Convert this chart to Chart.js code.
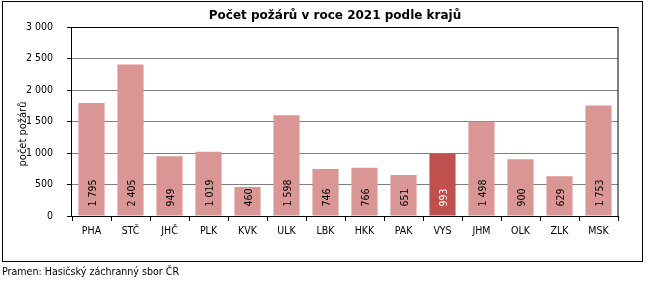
<!DOCTYPE html>
<html>
<head>
<meta charset="utf-8">
<script src="https://cdn.jsdelivr.net/npm/chart.js@4/dist/chart.umd.min.js"></script>
<style>
html,body{margin:0;padding:0;background:#fff;}
#wrap{position:relative;width:649px;height:281px;}
canvas{position:absolute;left:0;top:0;}
</style>
</head>
<body>
<div id="wrap"><canvas id="c" width="649" height="281"></canvas></div>
<script>
const categories = ["PHA","STČ","JHČ","PLK","KVK","ULK","LBK","HKK","PAK","VYS","JHM","OLK","ZLK","MSK"];
const fires = [1795, 2405, 949, 1019, 460, 1598, 746, 766, 651, 993, 1498, 900, 629, 1753];
const highlighted = ["VYS"];
const yTicks = [0, 500, 1000, 1500, 2000, 2500, 3000];
const chartTitle = "Počet požárů v roce 2021 podle krajů";
const yTitle = "počet požárů";
const sourceText = "Pramen: Hasičský záchranný sbor ČR";

const FONT = '"DejaVu Sans Condensed", "DejaVu Sans", sans-serif';
const TITLE_FONT = '"DejaVu Sans", sans-serif';
const fmt = v => String(v).replace(/\B(?=(\d{3})+(?!\d))/g, " ");

const LIGHT = "#D99694";
const DARK = "#C0504D";

const decor = {
  id: "decor",
  afterDraw(chart) {
    const ctx = chart.ctx;
    const a = chart.chartArea;
    ctx.save();
    ctx.strokeStyle = "#000";
    ctx.lineWidth = 1;
    ctx.strokeRect(Math.round(a.left) - 0.5, Math.round(a.top) + 0.5, Math.round(a.right - a.left) + 0.5, Math.round(a.bottom - a.top));
    ctx.strokeRect(2.5, 1.5, 640, 260);
    ctx.fillStyle = "#000";
    ctx.font = "bold 12px " + TITLE_FONT;
    ctx.textAlign = "center";
    ctx.textBaseline = "middle";
    ctx.fillText(chartTitle, 335, 16);
    ctx.font = "11px " + FONT;
    ctx.save();
    ctx.translate(23, 134);
    ctx.rotate(-Math.PI / 2);
    ctx.fillText(yTitle, 0, 0);
    ctx.restore();
    ctx.textAlign = "left";
    ctx.font = "10.6px " + FONT;
    ctx.fillText(sourceText, 2, 272);
    ctx.restore();
  },
  afterDatasetsDraw(chart) {
    const ctx = chart.ctx;
    const meta = chart.getDatasetMeta(0);
    ctx.save();
    ctx.font = "10.5px " + FONT;
    ctx.textAlign = "left";
    ctx.textBaseline = "middle";
    meta.data.forEach((bar, i) => {
      ctx.save();
      ctx.fillStyle = highlighted.includes(categories[i]) ? "#fff" : "#000";
      ctx.translate(bar.x + 1.5, bar.base - 9);
      ctx.rotate(-Math.PI / 2);
      ctx.fillText(fmt(fires[i]), 0, 0);
      ctx.restore();
    });
    ctx.restore();
  }
};

new Chart(document.getElementById("c"), {
  type: "bar",
  data: {
    labels: categories,
    datasets: [{
      data: fires,
      backgroundColor: categories.map(c => highlighted.includes(c) ? DARK : LIGHT),
      borderWidth: 0,
      barPercentage: 0.67,
      categoryPercentage: 1
    }]
  },
  options: {
    responsive: false,
    animation: false,
    devicePixelRatio: 1,
    layout: { padding: { left: 0, right: 31, top: 27, bottom: 0 } },
    plugins: { legend: { display: false }, title: { display: false }, tooltip: { enabled: false } },
    scales: {
      x: {
        offset: true,
        grid: { offset: true, drawOnChartArea: false, drawTicks: true, tickLength: 5, tickColor: "#000" },
        border: { display: false },
        ticks: { color: "#000", font: { family: FONT, size: 10.5 }, padding: 4, maxRotation: 0, autoSkip: false },
        afterFit(s) { s.height = 65; }
      },
      y: {
        min: 0, max: 3000,
        afterBuildTicks(s) { s.ticks = yTicks.map(v => ({ value: v })); },
        grid: { color: "#808080", tickColor: "#000", tickLength: 5, drawTicks: true },
        border: { display: false },
        ticks: { color: "#000", font: { family: FONT, size: 10.5 }, padding: 14, callback: v => fmt(v) },
        afterFit(s) { s.width = 72; }
      }
    }
  },
  plugins: [decor]
});
</script>
</body>
</html>
